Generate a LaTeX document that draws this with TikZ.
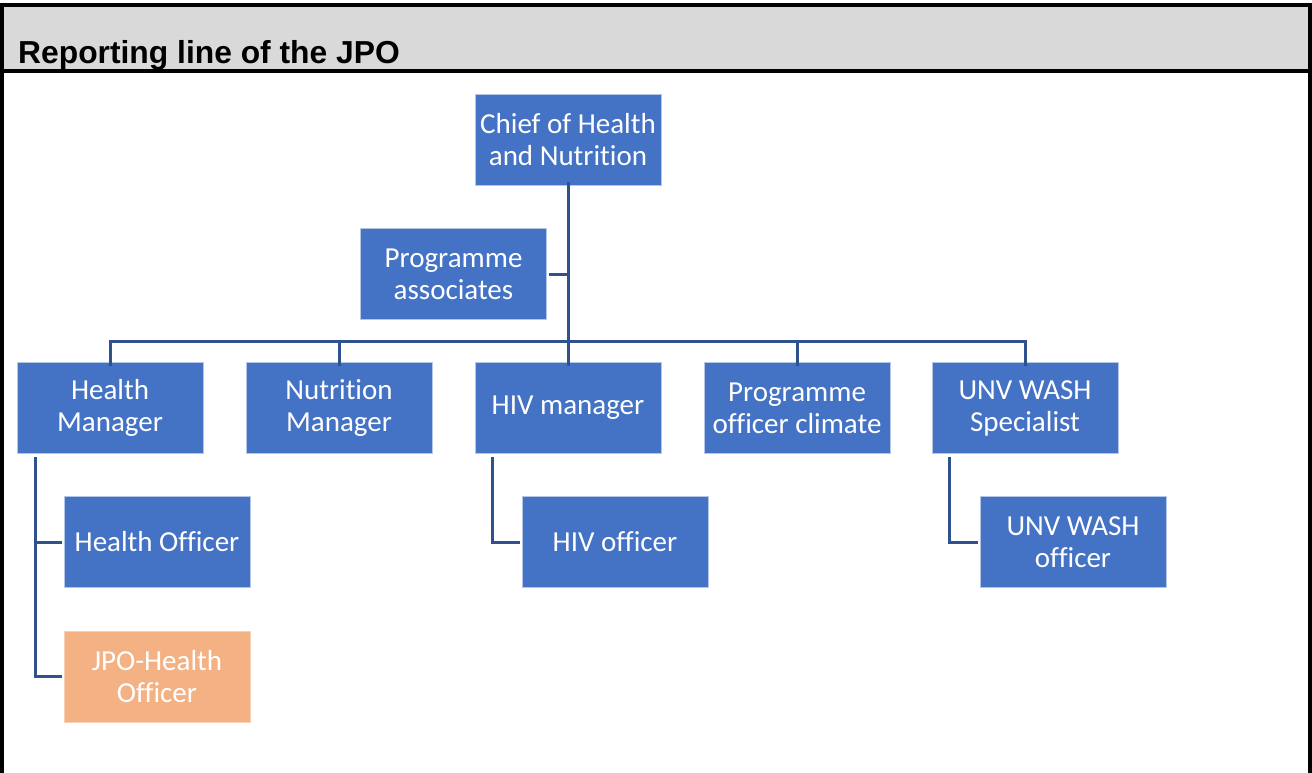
\documentclass[tikz,border=0pt]{standalone}
\usepackage{fontspec}
\setmainfont{Carlito}[Ligatures=NoCommon]
\newfontfamily\titlefont{Liberation Sans}
\definecolor{boxblue}{HTML}{4472C4}
\definecolor{boxorange}{HTML}{F4B183}
\definecolor{linkblue}{HTML}{2F528F}
\definecolor{headgray}{HTML}{D9D9D9}
\tikzset{
  orgbox/.style={fill=boxblue, draw=boxblue!40!white, line width=0.8pt, minimum width=186pt, minimum height=91pt, inner sep=0pt, text=white, align=center, font=\fontsize{29}{32}\selectfont},
  jpobox/.style={orgbox, fill=boxorange, draw=boxorange!60!white},
  link/.style={draw=linkblue, line width=3pt}
}
\begin{document}
\begin{tikzpicture}[x=1pt,y=-1pt]
\useasboundingbox (0,0) rectangle (1312,773);
% frame
\fill[headgray] (2,5) rectangle (1310,71);
\draw[line width=3.2pt] (2,780) -- (2,5) -- (1310,5) -- (1310,780);
\draw[line width=3.2pt] (2,71) -- (1310,71);
\node[anchor=base west, inner sep=0pt, font=\titlefont\bfseries\fontsize{31.8}{36}\selectfont] (title) at (18,64) {Reporting line of the JPO};
% boxes
\node[orgbox] (chief) at (568,139.5) {Chief of Health\\and Nutrition};
\node[orgbox] (assoc) at (453.5,274) {Programme\\associates};
\node[orgbox] (hm) at (110,408) {Health\\Manager};
\node[orgbox] (nm) at (339,408) {Nutrition\\Manager};
\node[orgbox] (hiv) at (568,408) {HIV manager};
\node[orgbox] (poc) at (797,408) {Programme\\officer climate};
\node[orgbox] (unv) at (1025,408) {UNV WASH\\Specialist};
\node[orgbox] (ho) at (157,542) {Health Officer};
\node[jpobox] (jpo) at (157,676.5) {JPO-Health\\Officer};
\node[orgbox] (hivo) at (615,542) {HIV officer};
\node[orgbox] (unvo) at (1073,542) {UNV WASH\\officer};
% connectors
\coordinate (bus) at (568,341);
\draw[link] ([yshift=3pt]chief.south) -- ([yshift=-4pt]hiv.north);
\draw[link] ([xshift=2pt]assoc.east) -- (assoc.east -| chief.south);
\draw[link] ([yshift=-4pt]hm.north) |- (bus) -| ([yshift=-4pt]unv.north);
\draw[link] ([yshift=-4pt]nm.north) -- (nm.north |- bus);
\draw[link] ([yshift=-4pt]poc.north) -- (poc.north |- bus);
\coordinate (hmt) at (35,457);
\coordinate (hivt) at (492,457);
\coordinate (unvt) at (949,457);
\draw[link] (hmt) |- ([xshift=-2pt]jpo.west);
\draw[link] (hmt |- ho.west) -- ([xshift=-2pt]ho.west);
\draw[link] (hivt) |- ([xshift=-2pt]hivo.west);
\draw[link] (unvt) |- ([xshift=-2pt]unvo.west);
\end{tikzpicture}
\end{document}
